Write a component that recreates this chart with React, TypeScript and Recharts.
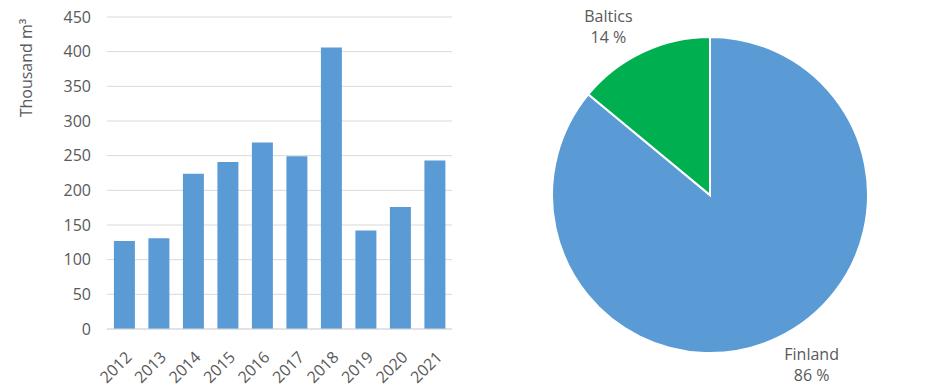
import { Bar, BarChart, CartesianGrid, Cell, Label, Pie, PieChart, XAxis, YAxis } from "recharts"

const years = ["2012", "2013", "2014", "2015", "2016", "2017", "2018", "2019", "2020", "2021"]
const volumes = [127, 131, 224, 241, 269, 249, 406, 142, 176, 243]
const yTicks = [0, 50, 100, 150, 200, 250, 300, 350, 400, 450]

const regions = ["Finland", "Baltics"]
const shares = [86, 14]
const regionColors = ["#5b9bd5", "#00b050"]

const barData = years.map((year, i) => ({ year, total: volumes[i] }))
const pieData = regions.map((name, i) => ({ name, value: shares[i] }))

const font = "'Open Sans', sans-serif"
const textColor = "#595959"

const YearTick = (props: any) => {
    const { x, y, payload } = props
    return (
        <text
            x={x}
            y={y}
            transform={`rotate(-45 ${x} ${y})`}
            textAnchor="end"
            dx={-9}
            dy={21}
            fill={textColor}
            fontSize={16}
            fontFamily={font}
        >
            {payload.value}
        </text>
    )
}

const RADIAN = Math.PI / 180

const PieLabel = (props: any) => {
    const { cx, cy, midAngle, outerRadius, name, value } = props
    const r = outerRadius + 29
    const cos = Math.cos(-midAngle * RADIAN)
    const x = cx + r * cos + Math.sign(cos) * 22
    const y = cy + r * Math.sin(-midAngle * RADIAN) + 2
    return (
        <text x={x} y={y} textAnchor="middle" fill={textColor} fontSize={16} fontFamily={font}>
            <tspan x={x} dy={-6}>{name}</tspan>
            <tspan x={x} dy={21}>{value} %</tspan>
        </text>
    )
}

export default function App() {
    return (
        <div style={{ position: "absolute", left: 0, top: 0, width: 943, height: 391, background: "#fff", display: "flex" }}>
            <BarChart
                width={470}
                height={391}
                data={barData}
                margin={{ top: 17, right: 18, left: 0, bottom: 0 }}
                barCategoryGap="20%"
            >
                <CartesianGrid vertical={false} stroke="#d9d9d9" />
                <XAxis
                    dataKey="year"
                    height={62}
                    interval={0}
                    tickLine={false}
                    axisLine={{ stroke: "#d9d9d9" }}
                    tick={<YearTick />}
                />
                <YAxis
                    width={107}
                    domain={[0, 450]}
                    ticks={yTicks}
                    tickLine={false}
                    axisLine={false}
                    tickSize={0}
                    tickMargin={16}
                    tick={{ fill: textColor, fontSize: 16, fontFamily: font }}
                >
                    <Label
                        content={() => (
                            <text
                                x={32}
                                y={68}
                                transform="rotate(-90 32 68)"
                                textAnchor="middle"
                                fill={textColor}
                                fontSize={16}
                                fontFamily={font}
                            >
                                Thousand m³
                            </text>
                        )}
                    />
                </YAxis>
                <Bar dataKey="total" fill="#5b9bd5" isAnimationActive={false} />
            </BarChart>
            <PieChart width={473} height={391} margin={{ top: 0, right: 0, left: 0, bottom: 0 }}>
                <Pie
                    data={pieData}
                    dataKey="value"
                    nameKey="name"
                    cx={240}
                    cy={195}
                    outerRadius={158}
                    startAngle={90}
                    endAngle={-270}
                    stroke="#fff"
                    strokeWidth={2}
                    labelLine={false}
                    label={PieLabel}
                    isAnimationActive={false}
                >
                    {pieData.map((d, i) => (
                        <Cell key={d.name} fill={regionColors[i]} />
                    ))}
                </Pie>
            </PieChart>
        </div>
    )
}
